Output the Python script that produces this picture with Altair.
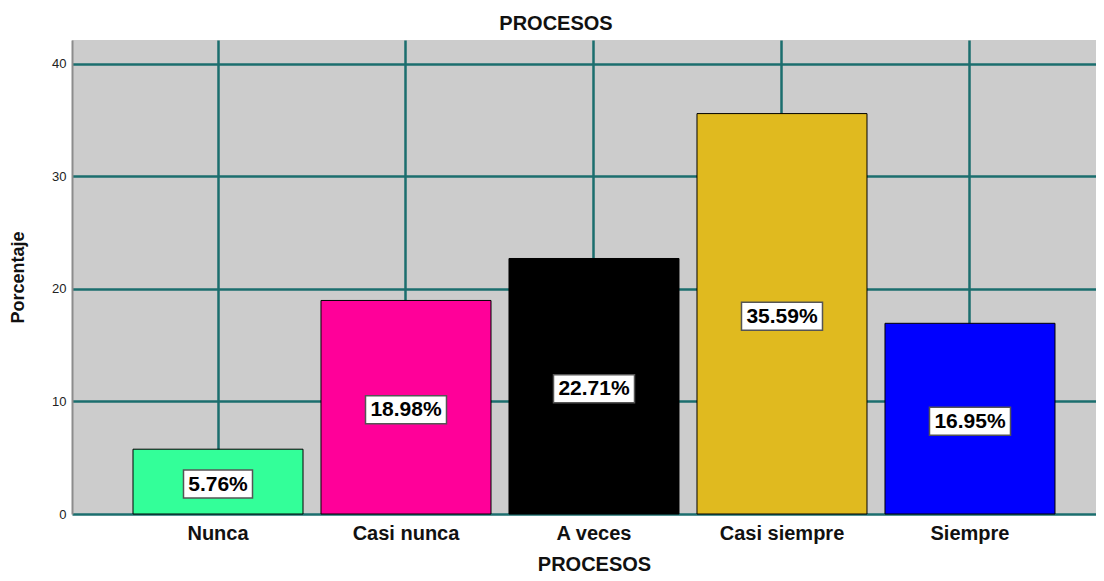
import altair as alt
import pandas as pd

categories = ["Nunca", "Casi nunca", "A veces", "Casi siempre", "Siempre"]
percentages = [5.76, 18.98, 22.71, 35.59, 16.95]
colors = ["#33FF99", "#FF0099", "#000000", "#E0BA1F", "#0000FF"]
y_ticks = [0, 10, 20, 30, 40]

df = pd.DataFrame({"cat": categories, "pct": percentages})

FONT = "Liberation Sans"
GRID = "#1B6E6E"

x_scale = alt.Scale(paddingInner=0.0957, paddingOuter=0.2713, align=0.598)
y_scale = alt.Scale(domain=[0, 42.13], nice=False, zero=True)

x_axis = alt.Axis(
    title="PROCESOS", labelAngle=0, labelFontSize=20, labelFontWeight="bold",
    labelFont=FONT, labelColor="#111111", labelPadding=19, labelBaseline="middle",
    ticks=False, tickSize=0, domain=False, grid=True, gridColor=GRID, gridWidth=2.5,
    tickBand="center", titleFontSize=20, titleFontWeight="bold", titleFont=FONT,
    titleColor="#111111", titleX=522, titleY=50, titleBaseline="middle", titleAlign="center",
)
y_axis = alt.Axis(
    title="Porcentaje", values=y_ticks, labelFontSize=13, labelFont=FONT,
    labelColor="#222222", labelPadding=6, ticks=False, tickSize=0,
    domainColor="#8C8C8C", domainWidth=2, gridColor=GRID, gridWidth=2.5,
    titleFontSize=18, titleFontWeight="bold", titleFont=FONT, titleColor="#111111",
    titleAngle=270, titleX=-54, titleY=237, titleBaseline="middle", titleAlign="center",
)

base = alt.Chart(df)

bars = base.mark_bar(stroke="black", strokeWidth=1).encode(
    x=alt.X("cat:N", sort=categories, scale=x_scale, axis=x_axis),
    y=alt.Y("pct:Q", scale=y_scale, axis=y_axis),
    color=alt.Color("cat:N", scale=alt.Scale(domain=categories, range=colors), legend=None),
)

lab = base.transform_calculate(
    mid="datum.pct / 2",
    label="format(datum.pct, '.2f') + '%'",
)
x_lab = alt.X("cat:N", sort=categories, scale=x_scale, axis=x_axis)
y_lab = alt.Y("mid:Q", scale=y_scale, axis=y_axis)

box_wide = lab.transform_filter("length(datum.label) == 6").mark_point(
    shape="M-1,-0.3457H1V0.3457H-1Z", size=6561, filled=True, fill="white",
    stroke="#555555", strokeWidth=1.5, opacity=1, yOffset=2.5,
).encode(x=x_lab, y=y_lab)

box_narrow = lab.transform_filter("length(datum.label) == 5").mark_point(
    shape="M-1,-0.4058H1V0.4058H-1Z", size=4761, filled=True, fill="white",
    stroke="#555555", strokeWidth=1.5, opacity=1, yOffset=2.5,
).encode(x=x_lab, y=y_lab)

texts = lab.mark_text(
    fontSize=21, fontWeight="bold", font=FONT, baseline="middle", align="center",
    color="black", yOffset=3,
).encode(x=x_lab, y=y_lab, text="label:N")

chart = alt.layer(bars, box_wide, box_narrow, texts).properties(
    width=1024,
    height=474,
    autosize=alt.AutoSizeParams(type="none"),
    padding={"left": 64, "top": 32, "right": 0, "bottom": 59},
    title=alt.TitleParams(
        "PROCESOS", fontSize=20, fontWeight="bold", font=FONT, anchor="middle",
        dx=-28, dy=19, offset=9, baseline="alphabetic", color="#111111",
    ),
).configure(background="white").configure_view(fill="#CCCCCC", stroke=None)

chart.save("out.html", embed_options={"renderer": "svg", "actions": False})
